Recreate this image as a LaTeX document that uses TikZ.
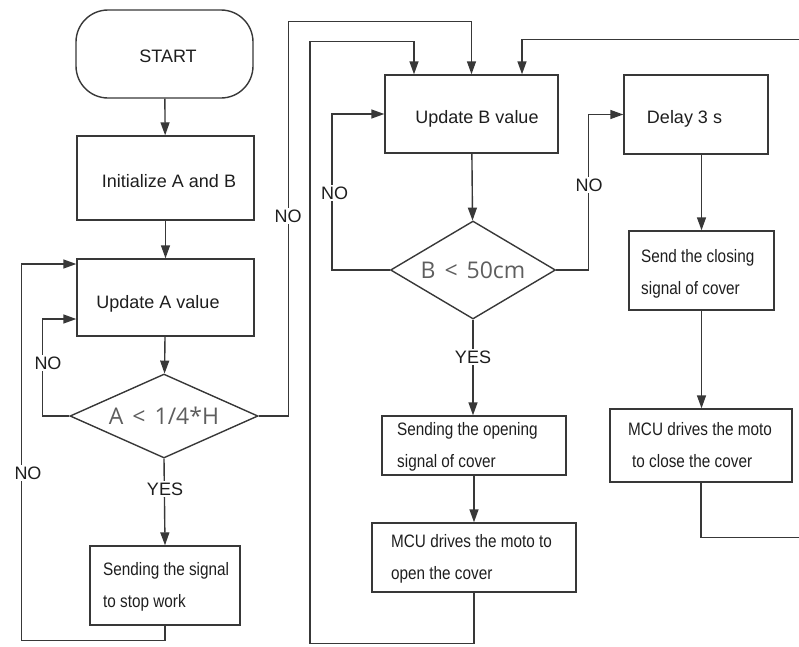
\documentclass[tikz,border=0pt]{standalone}
\usepackage{fontspec}
\setmainfont{Liberation Sans}
\newfontfamily\narrowsans{Liberation Sans}[FakeStretch=0.85]
\newfontfamily\condsans{Open Sans}[WordSpace=1.5]
\usetikzlibrary{arrows.meta,shapes.geometric,calc}
\definecolor{linegray}{HTML}{383838}
\definecolor{textgray}{HTML}{1E1E1E}
\definecolor{condgray}{HTML}{5E5E5E}
\begin{document}
\begin{tikzpicture}[x=1pt,y=-1pt,
  flow/.style={draw=linegray,line width=1.4pt},
  arr/.style={flow,-{Triangle[length=13pt,width=9pt]}},
  box/.style={draw=linegray,line width=1.4pt,rectangle,inner sep=0pt},
  cond/.style={draw=linegray,line width=1.4pt,diamond,inner sep=0pt,
    text=condgray,font=\condsans\fontsize{23}{25}\selectfont},
  word/.style={text=textgray,font=\fontsize{18}{20}\selectfont,inner sep=0pt,anchor=base},
  para/.style={text=textgray,font=\narrowsans\fontsize{18}{32}\selectfont,
    align=left,inner sep=0pt,anchor=west},
  tag/.style={fill=white,text=textgray,font=\fontsize{18}{20}\selectfont,inner sep=2pt}
]
\useasboundingbox (0,0) rectangle (799,646);

% left column: measuring A
\node[box,rounded corners=32pt,minimum width=177pt,minimum height=88pt] (start) at (164.5,54) {};
\node[box,minimum width=177pt,minimum height=84pt] (init) at (165.5,178) {};
\node[box,minimum width=177pt,minimum height=77pt] (updA) at (165.5,297.5) {};
\node[cond,aspect=2.238,minimum width=188pt,minimum height=84pt] (diaA) at (164,416) {A < 1/4*H};
\node[box,minimum width=150pt,minimum height=79pt] (stop) at (165,585.5) {};

% middle column: measuring B
\node[box,minimum width=173pt,minimum height=78pt] (updB) at (471.5,114) {};
\node[cond,aspect=1.684,minimum width=165pt,minimum height=98pt] (diaB) at (473,270) {B < 50cm};
\node[box,minimum width=184pt,minimum height=59pt] (open) at (474,445.5) {};
\node[box,minimum width=204pt,minimum height=69pt] (motoO) at (474,557.5) {};

% right column: closing
\node[box,minimum width=144pt,minimum height=79pt] (delay) at (696,114.5) {};
\node[box,minimum width=145pt,minimum height=79pt] (close) at (701.5,270.5) {};
\node[box,minimum width=182pt,minimum height=73pt] (motoC) at (701,445.5) {};

% box texts
\node[word] (tStart) at (168,62) {START};
\node[word] (tInit) at (169,187) {Initialize A and B};
\node[word] (tUpdA) at (158,308) {Update A value};
\node[word] (tUpdB) at (477,123) {Update B value};
\node[word] (tDelay) at (684.5,123) {Delay 3 s};
\node[para] (tStop) at (103,586.4) {Sending the signal\\to stop work};
\node[para] (tClose) at (641,273.9) {Send the closing\\signal of cover};
\node[para] (tMotoC) at (628,445.5) {MCU drives the moto\\\hspace*{4pt}to close the cover};
\node[para] (tOpen) at (397,447.3) {Sending the opening\\signal of cover};
\node[para] (tMotoO) at (391,558.8) {MCU drives the moto to\\open the cover};

% straight flow
\draw[arr] (start) -- (init);
\draw[arr] (init) -- (updA);
\draw[arr] (updA) -- (diaA);
\draw[arr] (diaA.south) -- (stop.north);
\draw[arr] (updB) -- (diaB);
\draw[arr] (diaB.south) -- (diaB.south |- open.north);
\draw[arr] (open.south) -- (open.south |- motoO.north);
\draw[arr] (close.north |- delay.south) -- (close.north);
\draw[arr] (close.south) -- (close.south |- motoC.north);

% loops
\draw[arr] (diaA.west) -- ++(-27,0) |- ($(updA.west)+(0,21.5)$);
\draw[arr] (stop.south) -- ++(0,15) -| ($(updA.west)+(-55,-33.5)$) -- ($(updA.west)+(0,-33.5)$);
\draw[arr] (diaA.east) -- ++(30,0) |- ($(updB.north)+(0,-53)$) -- (updB.north);
\draw[arr] (motoO.south) -- ++(0,51) -| ($(updB.north)+(-161.5,-33)$) -| ($(updB.north)+(-57.5,0)$);
\draw[arr] (motoC.south) -- ++(0,55) -- ++(110,0) -- ++(0,-498) -| ($(updB.north)+(50.5,0)$);
\draw[arr] (diaB.west) -- ++(-58,0) |- (updB.west);
\draw[arr] (diaB.east) -- ++(32,0) |- (delay.west);

% branch labels
\node[tag] (noA1) at (48,363) {NO};
\node[tag] (noA2) at (28,473) {NO};
\node[tag] (yesA) at (165,489) {YES};
\node[tag] (noA3) at (288,216) {NO};
\node[tag] (noB1) at (334.5,193) {NO};
\node[tag] (noB2) at (589,185) {NO};
\node[tag] (yesB) at (473,357) {YES};
\end{tikzpicture}
\end{document}
